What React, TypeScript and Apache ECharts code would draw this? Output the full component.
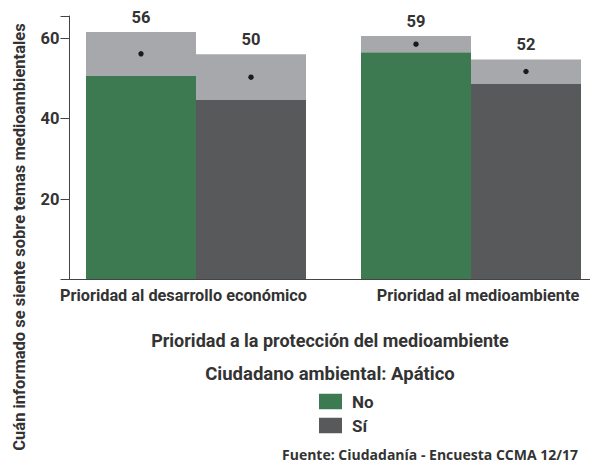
import React, { useEffect, useRef } from "react";
import * as echarts from "echarts";

const categories = ["Prioridad al desarrollo económico", "Prioridad al medioambiente"];
const seriesNames = ["No", "Sí"];
// lower / upper confidence bounds and means
const lowerNo = [50.6, 56.5];
const upperNo = [61.5, 60.5];
const meanNo = [56.1, 58.5];
const labelNo = ["56", "59"];
const lowerSi = [44.6, 48.6];
const upperSi = [56.0, 54.7];
const meanSi = [50.3, 51.7];
const labelSi = ["50", "52"];
const yTicks = [20, 40, 60];

const GREEN = "#3d7a52";
const DARK = "#58595b";
const LIGHT = "#a7a8ab";
const TEXT = "#333333";
const FONT = "Roboto, 'Noto Sans', sans-serif";

export default function App() {
  const ref = useRef<HTMLDivElement>(null);
  useEffect(() => {
    if (!ref.current) return;
    const chart = echarts.init(ref.current, null, { renderer: "svg" });
    const ciNo = upperNo.map((u, i) => +(u - lowerNo[i]).toFixed(2));
    const ciSi = upperSi.map((u, i) => +(u - lowerSi[i]).toFixed(2));
    const dots: number[][] = [];
    categories.forEach((_, i) => {
      dots.push([i, meanNo[i], -1]);
      dots.push([i, meanSi[i], 1]);
    });
    const valueLabel = (labels: string[]) => ({
      show: true,
      position: "top" as const,
      distance: 6,
      color: TEXT,
      fontFamily: FONT,
      fontWeight: "bold" as const,
      fontSize: 16.5,
      formatter: (p: any) => labels[p.dataIndex],
    });
    const catFont = {
      color: TEXT,
      fontFamily: FONT,
      fontWeight: "bold" as const,
      fontSize: 16.3,
    };
    chart.setOption({
      animation: false,
      grid: {
        left: 58.5,
        right: -18.5,
        top: 16,
        bottom: 183.5,
        containLabel: false,
        outerBoundsMode: "none",
      },
      legend: {
        data: seriesNames,
        orient: "vertical",
        left: 319,
        top: 393,
        padding: 0,
        itemWidth: 23,
        itemHeight: 15.5,
        itemGap: 7,
        icon: "rect",
        textStyle: {
          color: TEXT,
          fontFamily: FONT,
          fontWeight: "bold",
          fontSize: 17,
          padding: [0, 0, 0, 5],
        },
      },
      xAxis: {
        type: "category",
        data: categories,
        axisLine: { show: false },
        axisTick: { show: false },
        axisLabel: {
          ...catFont,
          interval: 0,
          margin: 8,
          formatter: (v: string, i: number) => `{c${i}|${v}}`,
          rich: {
            c0: { ...catFont, padding: [0, 25, 0, 0] },
            c1: { ...catFont, padding: [0, 0, 0, 14] },
          },
        },
      },
      yAxis: {
        type: "value",
        min: 0,
        max: 65.5,
        interval: 20,
        offset: -11,
        splitLine: { show: false },
        axisLine: { show: true, lineStyle: { color: "#444", width: 1 } },
        axisTick: { show: true, length: 9, lineStyle: { color: "#444" } },
        axisLabel: {
          color: TEXT,
          fontFamily: FONT,
          fontWeight: "bold",
          fontSize: 16.5,
          margin: 10,
          formatter: (v: number) => (yTicks.includes(v) ? String(v) : ""),
        },
      },
      graphic: [
        {
          type: "line",
          shape: { x1: 69.5, y1: 279.5, x2: 590, y2: 279.5 },
          style: { stroke: "#444", lineWidth: 1 },
          z: 5,
        },
        {
          type: "text",
          x: 19.5,
          y: 237,
          rotation: Math.PI / 2,
          style: {
            text: "Cuán informado se siente sobre temas medioambientales",
            fill: TEXT,
            font: `bold 16.5px ${FONT}`,
            textAlign: "center",
            textVerticalAlign: "middle",
          },
        },
        {
          type: "text",
          x: 330,
          y: 340.5,
          style: {
            text: "Prioridad a la protección del medioambiente",
            fill: TEXT,
            font: `bold 18px ${FONT}`,
            textAlign: "center",
            textVerticalAlign: "middle",
          },
        },
        {
          type: "text",
          x: 330,
          y: 374,
          style: {
            text: "Ciudadano ambiental: Apático",
            fill: TEXT,
            font: `bold 18.5px ${FONT}`,
            textAlign: "center",
            textVerticalAlign: "middle",
          },
        },
        {
          type: "text",
          x: 282,
          y: 454.5,
          style: {
            text: "Fuente: Ciudadanía - Encuesta CCMA 12/17",
            fill: TEXT,
            font: `bold 14px 'Open Sans', 'Noto Sans', sans-serif`,
            textAlign: "left",
            textVerticalAlign: "middle",
          },
        },
      ],
      series: [
        {
          name: "No",
          type: "bar",
          stack: "no",
          data: lowerNo,
          itemStyle: { color: GREEN },
          barCategoryGap: "20%",
          barGap: "0%",
        },
        {
          name: "No IC",
          type: "bar",
          stack: "no",
          data: ciNo,
          itemStyle: { color: LIGHT },
          label: valueLabel(labelNo),
        },
        {
          name: "Sí",
          type: "bar",
          stack: "si",
          data: lowerSi,
          itemStyle: { color: DARK },
        },
        {
          name: "Sí IC",
          type: "bar",
          stack: "si",
          data: ciSi,
          itemStyle: { color: LIGHT },
          label: valueLabel(labelSi),
        },
        {
          name: "Media",
          type: "custom",
          data: dots,
          z: 10,
          renderItem: (_params: any, api: any) => {
            const p = api.coord([api.value(0), api.value(1)]);
            const bw = api.size([1, 0])[0];
            return {
              type: "circle",
              shape: { cx: p[0] + api.value(2) * bw * 0.2, cy: p[1], r: 2.7 },
              style: { fill: "#1a1a1a" },
            };
          },
        },
      ],
    });
    return () => chart.dispose();
  }, []);
  return <div ref={ref} style={{ width: 590, height: 463, position: "absolute", left: 0, top: 0 }} />;
}
